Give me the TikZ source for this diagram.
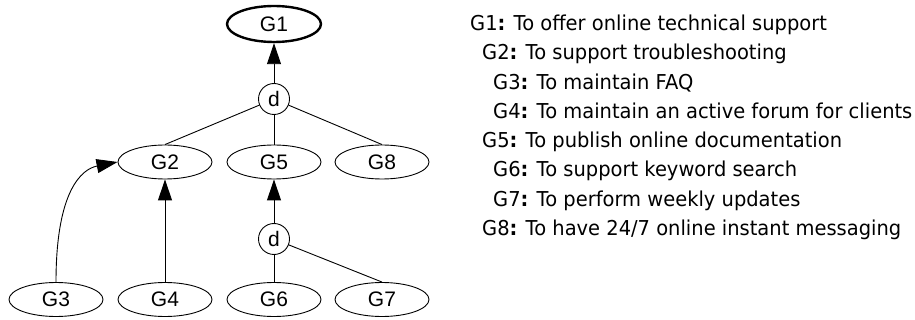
\documentclass[tikz,border=0pt]{standalone}
\usepackage{fontspec}
\setmainfont[FakeStretch=0.95]{DejaVu Sans}
\newfontfamily\goalfont{Liberation Sans}
\usetikzlibrary{arrows.meta,shapes.geometric}

\tikzset{
  goal/.style={draw, ellipse, line width=0.9pt, minimum width=94pt, minimum height=34pt,
    inner sep=0pt, font=\goalfont\fontsize{21pt}{24pt}\selectfont},
  topgoal/.style={goal, line width=2.4pt, minimum height=36pt},
  decomp/.style={draw, circle, line width=0.9pt, minimum size=31pt, inner sep=0pt,
    font=\goalfont\fontsize{21pt}{24pt}\selectfont},
  link/.style={line width=0.9pt},
  refine/.style={line width=0.9pt, -{Triangle[length=21pt, width=14pt]}},
  legend/.style={anchor=base west, inner sep=0pt, font=\fontsize{20.5pt}{24pt}\selectfont}
}

\begin{document}
\begin{tikzpicture}[x=1pt, y=-1pt]
  \useasboundingbox (0,0) rectangle (915,320);

  % goal tree
  \node[topgoal] (g1) at (274,24) {G1};
  \node[decomp]  (d1) at (274,99) {d};
  \node[goal] (g2) at (165,162) {G2};
  \node[goal] (g5) at (274,162) {G5};
  \node[goal] (g8) at (382,162) {G8};
  \node[decomp]  (d2) at (274,239) {d};
  \node[goal] (g3) at (56,299.5) {G3};
  \node[goal] (g4) at (165,299.5) {G4};
  \node[goal] (g6) at (274,299.5) {G6};
  \node[goal] (g7) at (382,299.5) {G7};

  \draw[refine] (d1) -- (g1);
  \draw[link] (d1) -- (g2.north);
  \draw[link] (d1) -- (g5.north);
  \draw[link] (d1) -- (g8.north);

  \draw[refine] (d2) -- (g5);
  \draw[link] (d2) -- (g6.north);
  \draw[link] (d2) -- (g7.north);

  \draw[refine] (g4.north) -- (g2.south);
  \draw[refine] (g3.north) .. controls (56,190) and (82,169) .. (g2.west);

  % goal descriptions
  \node[legend] (t1) at (470,30.5)  {G1\textbf{:} To offer online technical support};
  \node[legend] (t2) at (482,59.8)  {G2\textbf{:} To support troubleshooting};
  \node[legend] (t3) at (493,89.1)  {G3\textbf{:} To maintain FAQ};
  \node[legend] (t4) at (493,118.4) {G4\textbf{:} To maintain an active forum for clients};
  \node[legend] (t5) at (482,147.7) {G5\textbf{:} To publish online documentation};
  \node[legend] (t6) at (493,177)   {G6\textbf{:} To support keyword search};
  \node[legend] (t7) at (493,206.3) {G7\textbf{:} To perform weekly updates};
  \node[legend] (t8) at (482,235.6) {G8\textbf{:} To have 24/7 online instant messaging};
\end{tikzpicture}
\end{document}
